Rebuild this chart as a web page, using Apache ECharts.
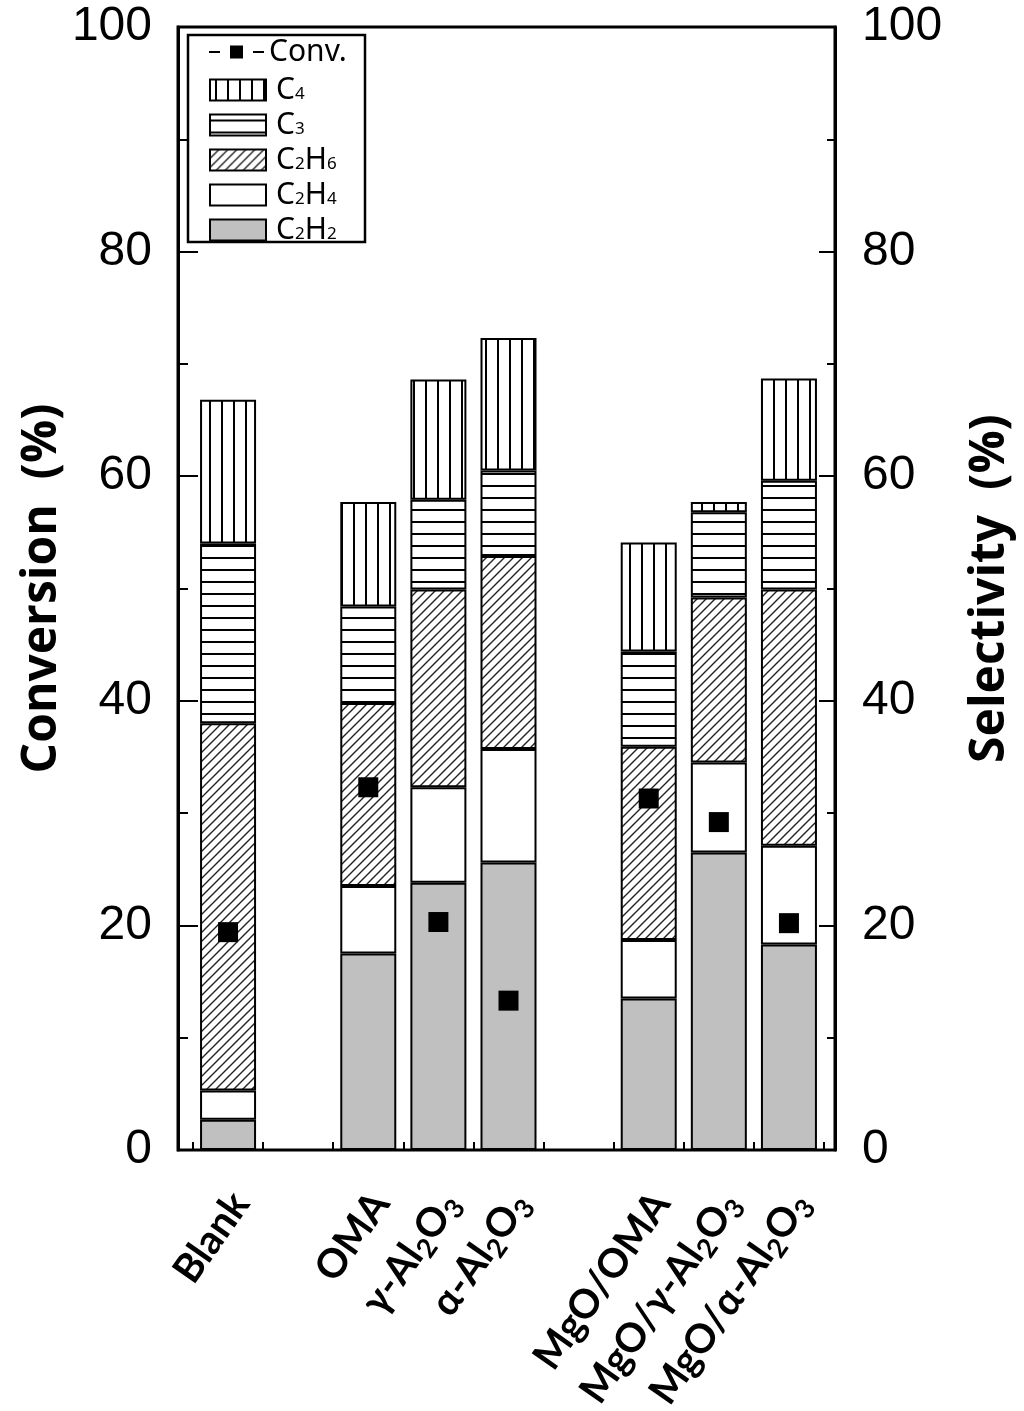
<!DOCTYPE html>
<html><head><meta charset="utf-8">
<script src="https://cdn.jsdelivr.net/npm/echarts@6/dist/echarts.min.js"></script>
<style>html,body{margin:0;padding:0;background:#fff}#c{width:1024px;height:1411px}</style>
</head><body><div id="c"></div>
<script>
// ---- data ----
var categories = ['Blank', '', 'OMA', 'γ-Al2O3', 'α-Al2O3', '', 'MgO/OMA', 'MgO/γ-Al2O3', 'MgO/α-Al2O3'];
var C2H2 = [2.7, null, 17.5, 23.8, 25.6, null, 13.5, 26.5, 18.3];
var C2H4 = [2.6, null, 6.0, 8.5, 10.1, null, 5.2, 8.0, 8.8];
var C2H6 = [32.7, null, 16.3, 17.6, 17.2, null, 17.2, 14.7, 22.8];
var C3 = [16.0, null, 8.6, 8.0, 7.6, null, 8.5, 7.6, 9.7];
var C4 = [12.8, null, 9.3, 10.7, 11.8, null, 9.7, 0.9, 9.1];
var conv = [19.4, null, 32.3, 20.3, 13.3, null, 31.3, 29.2, 20.2];
var yTicks = [0, 20, 40, 60, 80, 100];

// ---- patterns ----
function pat(kind) {
  var c = document.createElement('canvas');
  var s = kind === 'd' ? 9 : 12;
  c.width = s; c.height = s;
  var g = c.getContext('2d');
  g.fillStyle = '#fff'; g.fillRect(0, 0, s, s);
  g.strokeStyle = kind === 'd' ? '#222' : '#000';
  g.lineWidth = kind === 'd' ? 1.4 : 2;
  g.beginPath();
  if (kind === 'v') { g.moveTo(6, 0); g.lineTo(6, s); }
  else if (kind === 'h') { g.moveTo(0, 6); g.lineTo(s, 6); }
  else {
    g.moveTo(0, s); g.lineTo(s, 0);
    g.moveTo(-2, 2); g.lineTo(2, -2);
    g.moveTo(s - 2, s + 2); g.lineTo(s + 2, s - 2);
  }
  g.stroke();
  return { image: c, repeat: 'repeat' };
}

function sub(v, n, s) {
  if (!v) return '';
  return v.split(/(\d)/).filter(function (x) { return x; }).map(function (x) {
    return /\d/.test(x) ? '{' + s + '|' + x + '}' : '{' + n + '|' + x + '}';
  }).join('');
}

var chart = echarts.init(document.getElementById('c'), null, { renderer: 'canvas' });
function bar(name, data, color) {
  return {
    type: 'bar', stack: 'sel', xAxisIndex: 1, yAxisIndex: 2, barWidth: 56,
    name: name, data: data,
    itemStyle: { color: color, borderColor: '#000', borderWidth: 2 }
  };
}
var axisFont = { fontFamily: 'Liberation Sans', fontSize: 48, color: '#000' };
var nameFont = { fontFamily: 'Open Sans', fontWeight: 'bold', fontSize: 48, color: '#000' };

var option = {
  animation: false,
  backgroundColor: '#fff',
  grid: [
    { left: 178, top: 27, width: 657, height: 1123, show: true, borderColor: '#000', borderWidth: 3, backgroundColor: 'transparent', containLabel: false, outerBoundsMode: 'none' },
    { left: 193, top: 27, width: 631, height: 1123, containLabel: false, outerBoundsMode: 'none' }
  ],
  xAxis: [
    { type: 'category', gridIndex: 0, show: false, data: categories },
    {
      type: 'category', gridIndex: 1, data: categories, position: 'bottom',
      axisLine: { show: false },
      axisTick: { show: true, inside: true, length: 8, lineStyle: { color: '#000', width: 2 } },
      axisLabel: {
        rotate: 55, margin: 38, interval: 0, padding: [30, 0, 0, 0],
        formatter: function (v) { return sub(v, 'n', 's'); },
        rich: {
          n: { fontFamily: 'Lato', fontWeight: 'bold', fontSize: 40, lineHeight: 48, color: '#000' },
          s: { fontFamily: 'Lato', fontWeight: 'bold', fontSize: 27, lineHeight: 27, verticalAlign: 'bottom', color: '#000' }
        }
      }
    },
    {
      type: 'category', gridIndex: 1, data: categories, position: 'bottom',
      axisLine: { show: false },
      axisTick: { show: true, inside: true, alignWithLabel: true, length: 16, lineStyle: { color: '#000', width: 2 } },
      axisLabel: { show: false }
    }
  ],
  yAxis: [
    {
      type: 'value', gridIndex: 0, position: 'left', min: yTicks[0], max: yTicks[yTicks.length - 1], interval: 20,
      name: 'Conversion  (%)', nameLocation: 'middle', nameRotate: 90, nameGap: 112, nameMoveOverlap: false, nameTextStyle: nameFont,
      axisLine: { show: true, lineStyle: { color: '#000', width: 3 } },
      axisTick: { show: true, inside: true, length: 20, lineStyle: { color: '#000', width: 2 } },
      minorTick: { show: true, splitNumber: 2, length: 10, lineStyle: { color: '#000', width: 2 } },
      splitLine: { show: false },
      axisLabel: Object.assign({ margin: 26 }, axisFont)
    },
    {
      type: 'value', gridIndex: 0, position: 'right', min: yTicks[0], max: yTicks[yTicks.length - 1], interval: 20,
      name: 'Selectivity  (%)', nameLocation: 'middle', nameRotate: 90, nameGap: 131, nameMoveOverlap: false, nameTextStyle: nameFont,
      axisLine: { show: true, lineStyle: { color: '#000', width: 3 } },
      axisTick: { show: true, inside: true, length: 16, lineStyle: { color: '#000', width: 2 } },
      minorTick: { show: true, splitNumber: 2, length: 8, lineStyle: { color: '#000', width: 2 } },
      splitLine: { show: false },
      axisLabel: Object.assign({ margin: 27 }, axisFont)
    },
    { type: 'value', gridIndex: 1, min: 0, max: 100, show: false }
  ],
  legend: [
    {
      data: [{ name: 'Conv.', icon: 'path://M0,5.5h11v2h-11z M21,0h13v13h-13z M44,5.5h11v2h-11z', itemStyle: { color: '#000' } }],
      left: 204, top: 32, itemWidth: 55, itemHeight: 13, itemGap: 12, selectedMode: false,
      textStyle: { fontFamily: 'Noto Sans', fontSize: 30, lineHeight: 25, color: '#000' }
    },
    {
      data: ['C4', 'C3', 'C2H6', 'C2H4', 'C2H2'],
      orient: 'vertical', left: 204, top: 70, itemWidth: 56, itemHeight: 21, itemGap: 5, selectedMode: false,
      icon: 'rect',
      formatter: function (n) { return sub(n, 'n', 's'); },
      textStyle: {
        color: '#000', padding: [0, 0, 0, 5],
        rich: {
          n: { fontFamily: 'Noto Sans', fontSize: 30, lineHeight: 25, color: '#000' },
          s: { fontFamily: 'Noto Sans', fontSize: 17, lineHeight: 17, verticalAlign: 'bottom', color: '#000' }
        }
      }
    }
  ],
  graphic: [
    { type: 'rect', shape: { x: 188, y: 35, width: 177, height: 207 }, style: { fill: 'none', stroke: '#000', lineWidth: 2.5 }, z: 100 }
  ],
  series: [
    bar('C2H2', C2H2, '#c0c0c0'),
    bar('C2H4', C2H4, '#ffffff'),
    bar('C2H6', C2H6, pat('d')),
    bar('C3', C3, pat('h')),
    bar('C4', C4, pat('v')),
    {
      name: 'Conv.', type: 'scatter', xAxisIndex: 1, yAxisIndex: 2, data: conv,
      symbol: 'rect', symbolSize: 20, itemStyle: { color: '#000', opacity: 1 }, z: 10
    }
  ]
};
chart.setOption(option);
</script></body></html>
